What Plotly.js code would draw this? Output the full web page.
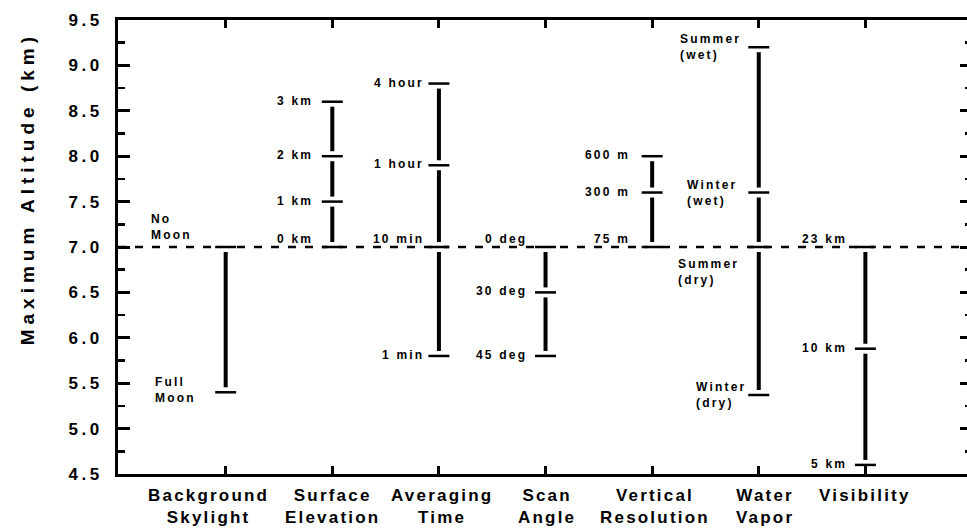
<!DOCTYPE html>
<html>
<head>
<meta charset="utf-8">
<script src="https://cdn.plot.ly/plotly-3.0.1.min.js"></script>
<style>
  html, body { margin: 0; padding: 0; background: #fff; overflow: hidden; }
  #chart { width: 976px; height: 531px; }
  .ytick text { letter-spacing: 3.5px; }
  .annotation-text { letter-spacing: 2.2px; }
  .annotation[data-index="0"] .annotation-text { letter-spacing: 5px; }
</style>
</head>
<body>
<div id="chart"></div>
<script>
// ---- data ----
const categories = ['Background<br>Skylight', 'Surface<br>Elevation', 'Averaging<br>Time', 'Scan<br>Angle', 'Vertical<br>Resolution', 'Water<br>Vapor', 'Visibility'];

const skylightVals = [7.0, 5.4];
const skylightLabels = ['No<br>Moon', 'Full<br>Moon'];
const surfaceVals = [7.0, 7.5, 8.0, 8.6];
const surfaceLabels = ['0 km', '1 km', '2 km', '3 km'];
const averagingVals = [5.8, 7.0, 7.9, 8.8];
const averagingLabels = ['1 min', '10 min', '1 hour', '4 hour'];
const scanVals = [7.0, 6.5, 5.8];
const scanLabels = ['0 deg', '30 deg', '45 deg'];
const verticalVals = [7.0, 7.6, 8.0];
const verticalLabels = ['75 m', '300 m', '600 m'];
const waterVals = [5.37, 7.0, 7.6, 9.2];
const waterLabels = ['Winter<br>(dry)', 'Summer<br>(dry)', 'Winter<br>(wet)', 'Summer<br>(wet)'];
const visibilityVals = [4.6, 5.88, 7.0];
const visibilityLabels = ['5 km', '10 km', '23 km'];

const baseline = 7.0;
const yTickVals = [4.5, 5.0, 5.5, 6.0, 6.5, 7.0, 7.5, 8.0, 8.5, 9.0, 9.5];
const yTitle = 'Maximum Altitude (km)';

const groups = [
  [skylightVals, skylightLabels],
  [surfaceVals, surfaceLabels],
  [averagingVals, averagingLabels],
  [scanVals, scanLabels],
  [verticalVals, verticalLabels],
  [waterVals, waterLabels],
  [visibilityVals, visibilityLabels]
];

// ---- styling ----
const FONT = 'Liberation Sans, Arial, Helvetica, sans-serif';
const traces = [];
const annotations = [{
  text: yTitle, xref: 'paper', yref: 'paper', x: 0, y: 0.628,
  xshift: -90, textangle: -90, showarrow: false, xanchor: 'center', yanchor: 'middle',
  font: {family: FONT, size: 19, color: '#000', weight: 'bold'}
}];

// category labels below the axis (horizontal nudges are presentation only)
const catShift = [-17, 0, 3, 1, 3, 6, 0];
categories.forEach(function (c, i) {
  annotations.push({
    text: c, x: i, xref: 'x', y: 0, yref: 'paper', xanchor: 'center', yanchor: 'top',
    xshift: catShift[i], yshift: -10, showarrow: false, align: 'center',
    font: {family: FONT, size: 17, color: '#000', weight: 'bold'}
  });
});

// label placement tweaks (presentation only)
const placement = {
  'No<br>Moon': {xshift: -32, yshift: 20, align: 'left'},
  'Full<br>Moon': {xshift: -28, yshift: 2, align: 'left'},
  'Summer<br>(dry)': {xshift: -18, yshift: -25, align: 'left'},
  'Winter<br>(dry)': {xshift: -11, yshift: 0, align: 'left'},
  'Winter<br>(wet)': {xshift: -20, yshift: 0, align: 'left'},
  'Summer<br>(wet)': {xshift: -16, yshift: 0, align: 'left'}
};
const defaultShift = [-30, -17, -13, -17, -20, -18, -16];

groups.forEach(function (g, i) {
  const vals = g[0], labels = g[1];
  const xs = vals.map(function () { return i; });
  // vertical bar
  traces.push({x: xs, y: vals, type: 'scatter', mode: 'lines',
    line: {color: '#000', width: 4}, hoverinfo: 'skip', showlegend: false, cliponaxis: false});
  // white gaps around the ticks
  traces.push({x: xs, y: vals, type: 'scatter', mode: 'markers',
    marker: {symbol: 'square', size: 10, color: '#fff', line: {width: 0}}, hoverinfo: 'skip', showlegend: false, cliponaxis: false});
  // horizontal tick marks
  traces.push({x: xs, y: vals, type: 'scatter', mode: 'markers',
    marker: {symbol: 'line-ew', size: 15, line: {color: '#000', width: 2.5}}, hoverinfo: 'skip', showlegend: false, cliponaxis: false});

  vals.forEach(function (v, k) {
    const lab = labels[k];
    const p = placement[lab] || {xshift: defaultShift[i], yshift: (v === baseline ? 8 : 1), align: 'right'};
    annotations.push({
      x: i, y: v, xref: 'x', yref: 'y', text: lab, showarrow: false,
      xanchor: 'right', yanchor: 'middle', align: p.align,
      xshift: p.xshift, yshift: p.yshift,
      font: {family: FONT, size: 12, color: '#000', weight: 'bold'}
    });
  });
});

const layout = {
  width: 976, height: 531,
  margin: {l: 118, r: 4, t: 20, b: 57},
  paper_bgcolor: '#fff', plot_bgcolor: '#fff',
  showlegend: false,
  xaxis: {
    range: [-1.01, 7], tickvals: [0, 1, 2, 3, 4, 5, 6], showticklabels: false,
    ticks: 'inside', ticklen: 8, tickwidth: 3, tickcolor: '#000',
    showline: true, linewidth: 3, linecolor: '#000', mirror: 'ticks',
    showgrid: false, zeroline: false, fixedrange: true
  },
  yaxis: {
    range: [4.5, 9.5], tickvals: yTickVals, tickformat: '.1f',
    ticks: 'inside', ticklen: 12, tickwidth: 3, tickcolor: '#000',
    minor: {dtick: 0.25, ticks: 'inside', ticklen: 7, tickwidth: 2.5, tickcolor: '#000', showgrid: false},
    showline: true, linewidth: 3, linecolor: '#000', mirror: 'ticks',
    showgrid: false, zeroline: false, fixedrange: true, ticklabelstandoff: 9,
    tickfont: {family: FONT, size: 17, color: '#000', weight: 'bold'}
  },
  shapes: [{
    type: 'line', xref: 'paper', yref: 'y', x0: 0, x1: 1, y0: baseline, y1: baseline,
    line: {color: '#000', width: 2.5, dash: '8px,9px'}, layer: 'below'
  }],
  annotations: annotations
};

Plotly.newPlot('chart', traces, layout, {displayModeBar: false, staticPlot: true});
</script>
</body>
</html>
